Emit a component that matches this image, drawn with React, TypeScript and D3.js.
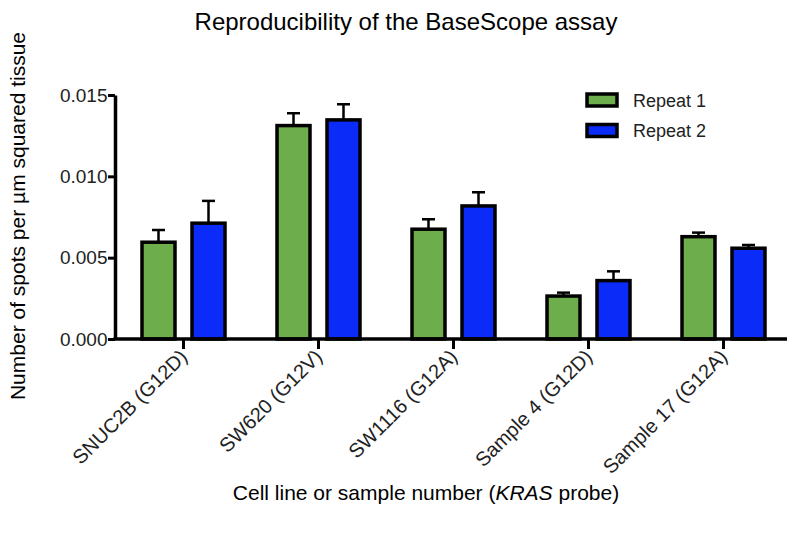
import React, { useEffect, useRef } from 'react';
import * as d3 from 'd3';

const categories = ['SNUC2B (G12D)', 'SW620 (G12V)', 'SW1116 (G12A)', 'Sample 4 (G12D)', 'Sample 17 (G12A)'];
const seriesNames = ['Repeat 1', 'Repeat 2'];
const repeat1 = [0.00595, 0.01312, 0.00675, 0.00264, 0.00629];
const repeat2 = [0.00712, 0.01347, 0.00818, 0.00359, 0.00558];
const repeat1Err = [0.00075, 0.00076, 0.00061, 0.00021, 0.00025];
const repeat2Err = [0.00137, 0.00096, 0.00084, 0.00057, 0.0002];
const yTicks = [0, 0.005, 0.01, 0.015];
const colors = ['#6dad4b', '#0a2bf8'];

const W = 787;
const H = 533;
const FONT = '"Liberation Sans", Arial, sans-serif';

function BarChart() {
  const ref = useRef<SVGSVGElement>(null);

  useEffect(() => {
    drawChart();
  }, []);

  function drawChart() {
    const svg = d3.select(ref.current);
    svg.selectAll('*').remove();

    const x0 = d3.scaleBand().domain(categories).range([116, 791]).paddingInner(0).paddingOuter(0);
    const x1 = d3.scaleBand().domain(seriesNames).range([26, 109]).paddingInner(0.34).paddingOuter(0);
    const y = d3.scaleLinear().domain([0, 0.015]).range([339, 95]);

    const values = [repeat1, repeat2];
    const errs = [repeat1Err, repeat2Err];
    const rows = categories.flatMap((c, i) =>
      seriesNames.map((s, j) => ({ cat: c, series: s, j, value: values[j][i], err: errs[j][i] }))
    );

    // title
    svg.append('text')
      .attr('x', 406).attr('y', 30)
      .attr('text-anchor', 'middle')
      .style('font-size', '24px')
      .text('Reproducibility of the BaseScope assay');

    // error bars (behind bars)
    const eb = svg.append('g').attr('stroke', '#000').attr('stroke-width', 2.5);
    rows.forEach((d) => {
      const cx = x0(d.cat)! + x1(d.series)! + x1.bandwidth() / 2;
      eb.append('line').attr('x1', cx).attr('x2', cx).attr('y1', y(d.value)).attr('y2', y(d.value + d.err));
      eb.append('line').attr('x1', cx - 6.5).attr('x2', cx + 6.5).attr('y1', y(d.value + d.err)).attr('y2', y(d.value + d.err));
    });

    // bars
    svg.append('g')
      .selectAll('rect')
      .data(rows)
      .enter()
      .append('rect')
      .attr('x', (d) => x0(d.cat)! + x1(d.series)!)
      .attr('y', (d) => y(d.value))
      .attr('width', x1.bandwidth())
      .attr('height', (d) => y(0) - y(d.value))
      .style('fill', (d) => colors[d.j])
      .style('stroke', '#000')
      .style('stroke-width', 3.5);

    // y axis
    const yAxis = svg.append('g')
      .attr('transform', 'translate(115,0)')
      .call(d3.axisLeft(y).tickValues(yTicks).tickFormat(d3.format('.3f')).tickSize(7).tickSizeOuter(0));
    yAxis.select('.domain').attr('stroke-width', 3.5);
    yAxis.selectAll('.tick line').attr('stroke-width', 3);
    yAxis.selectAll('.tick text').style('font-size', '19px').style('font-family', FONT).attr('fill', '#222').attr('x', -7.5);

    // x axis
    const xAxis = svg.append('g')
      .attr('transform', 'translate(0,339)')
      .call(d3.axisBottom(x0).tickSize(10).tickSizeOuter(0));
    xAxis.select('.domain').attr('stroke-width', 3.5).attr('d', 'M113.5,0H787');
    xAxis.selectAll('.tick line').attr('stroke-width', 3);
    xAxis.selectAll('.tick text')
      .style('font-size', '20px')
      .style('font-family', FONT)
      .attr('fill', '#222')
      .attr('text-anchor', 'end')
      .attr('x', 0).attr('y', 0).attr('dy', '0.35em')
      .attr('transform', 'translate(0,14) rotate(-45)');

    // axis titles
    svg.append('text')
      .attr('transform', 'translate(25,216) rotate(-90)')
      .attr('text-anchor', 'middle')
      .style('font-size', '21px')
      .text('Number of spots per µm squared tissue');

    const xl = svg.append('text')
      .attr('x', 426).attr('y', 500)
      .attr('text-anchor', 'middle')
      .style('font-size', '21px');
    xl.append('tspan').text('Cell line or sample number (');
    xl.append('tspan').style('font-style', 'italic').text('KRAS');
    xl.append('tspan').text(' probe)');

    // legend
    const lg = svg.append('g');
    seriesNames.forEach((s, i) => {
      lg.append('rect')
        .attr('x', 587).attr('y', 94 + i * 30.5)
        .attr('width', 30).attr('height', 12)
        .style('fill', colors[i]).style('stroke', '#000').style('stroke-width', 3.5);
      lg.append('text')
        .attr('x', 633).attr('y', 106.5 + i * 30.5)
        .style('font-size', '18px')
        .attr('fill', '#222')
        .text(s);
    });
  }

  return (
    <svg ref={ref} width={W} height={H}
      style={{ position: 'absolute', left: 0, top: 0, background: '#fff', fontFamily: FONT }} />
  );
}

export default function App() {
  return <BarChart />;
}
